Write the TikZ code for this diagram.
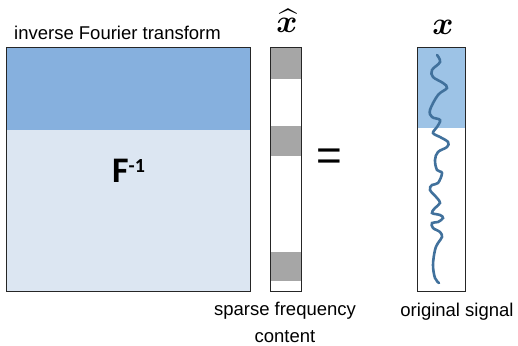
\documentclass[tikz,border=0pt]{standalone}
\usepackage{graphicx}
\usepackage{fontspec}
\setmainfont{Liberation Sans}
\newfontfamily\calib{Carlito}
\usepackage{amsmath,bm}
\usetikzlibrary{positioning}
\definecolor{bandblue}{HTML}{86B0DE}
\definecolor{paleblue}{HTML}{DCE6F2}
\definecolor{sigblue}{HTML}{9DC3E6}
\definecolor{coefgray}{HTML}{A6A6A6}
\definecolor{wave}{HTML}{41719C}
\tikzset{
  frame/.style={draw=black!85,line width=1.3pt},
  colbox/.style={rectangle,inner sep=0pt,minimum height=243pt},
  lbl/.style={font=\fontsize{18.5}{27}\selectfont,inner sep=0pt},
  vecname/.style={font=\fontsize{20.74}{22}\selectfont,inner sep=0pt}
}
\newcommand{\bigvec}[1]{\scalebox{1.55}{#1}}

\begin{document}
\begin{tikzpicture}[x=1pt,y=-1pt]
% \draw[help lines] (0,0) grid (518,345);
\useasboundingbox (0,0) rectangle (518,345);
\node (Finv) [colbox,fill=paleblue,minimum width=243pt] at (128.5,169.5) {};
\node (xhat) [colbox,fill=white,minimum width=31pt] at (286,169.5) {};
\node (xsig) [colbox,fill=white,minimum width=47pt] at (441.5,169.5) {};
%
\fill[bandblue] (Finv.north west) rectangle ([yshift=-82pt]Finv.north east);
\fill[sigblue] (xsig.north west) rectangle ([yshift=-80pt]xsig.north east);
\fill[coefgray] (xhat.north west) rectangle ([yshift=-31pt]xhat.north east);
\fill[coefgray] ([yshift=-78pt]xhat.north west) rectangle ([yshift=-108pt]xhat.north east);
\fill[coefgray] ([yshift=10pt]xhat.south west) rectangle ([yshift=39pt]xhat.south east);
%
\draw[wave,line width=2.6pt,line cap=round] plot[smooth,tension=0.6] coordinates {
  (437,55) (440,62) (432,70) (433,77) (443,83) (447,88) (438,95) (430,110)
  (432,117) (440,120) (437,127) (433,133) (440,137) (448,142) (447,147)
  (438,152) (435,160) (437,170) (442,173) (438,183) (432,185) (430,190)
  (437,198) (440,203) (435,208) (432,213) (440,215) (443,218) (438,222)
  (432,223) (433,228) (440,232) (442,237) (438,243) (435,250) (433,265)
  (435,278) (439,283)};
%
\draw[frame] (Finv.north west) rectangle (Finv.south east);
\draw[frame] (xhat.north west) rectangle (xhat.south east);
\draw[frame] (xsig.north west) rectangle (xsig.south east);
%
\node (Flbl) [font=\calib\bfseries\fontsize{36}{38}\selectfont,inner sep=0pt,anchor=base west] at (112,182)
  {F\raisebox{10pt}{\fontsize{20}{21}\selectfont -1}};
\node (eq) [font=\fontsize{44}{46}\selectfont,inner sep=0pt] at (329,160) {=};
\node (xhatlbl) [vecname] at (287,21) {\bigvec{$\widehat{\bm{x}}$}};
\node (xlbl) [vecname] at (443,27.5) {\bigvec{$\bm{x}$}};
%
\node (lblinv) [lbl,anchor=base] at (117.5,39) {inverse Fourier transform};
\node (lblsparse) [lbl,anchor=base,align=center] at (285,342) {sparse frequency\\content};
\node (lblorig) [lbl,anchor=base] at (457,316) {original signal};
\end{tikzpicture}
\end{document}
